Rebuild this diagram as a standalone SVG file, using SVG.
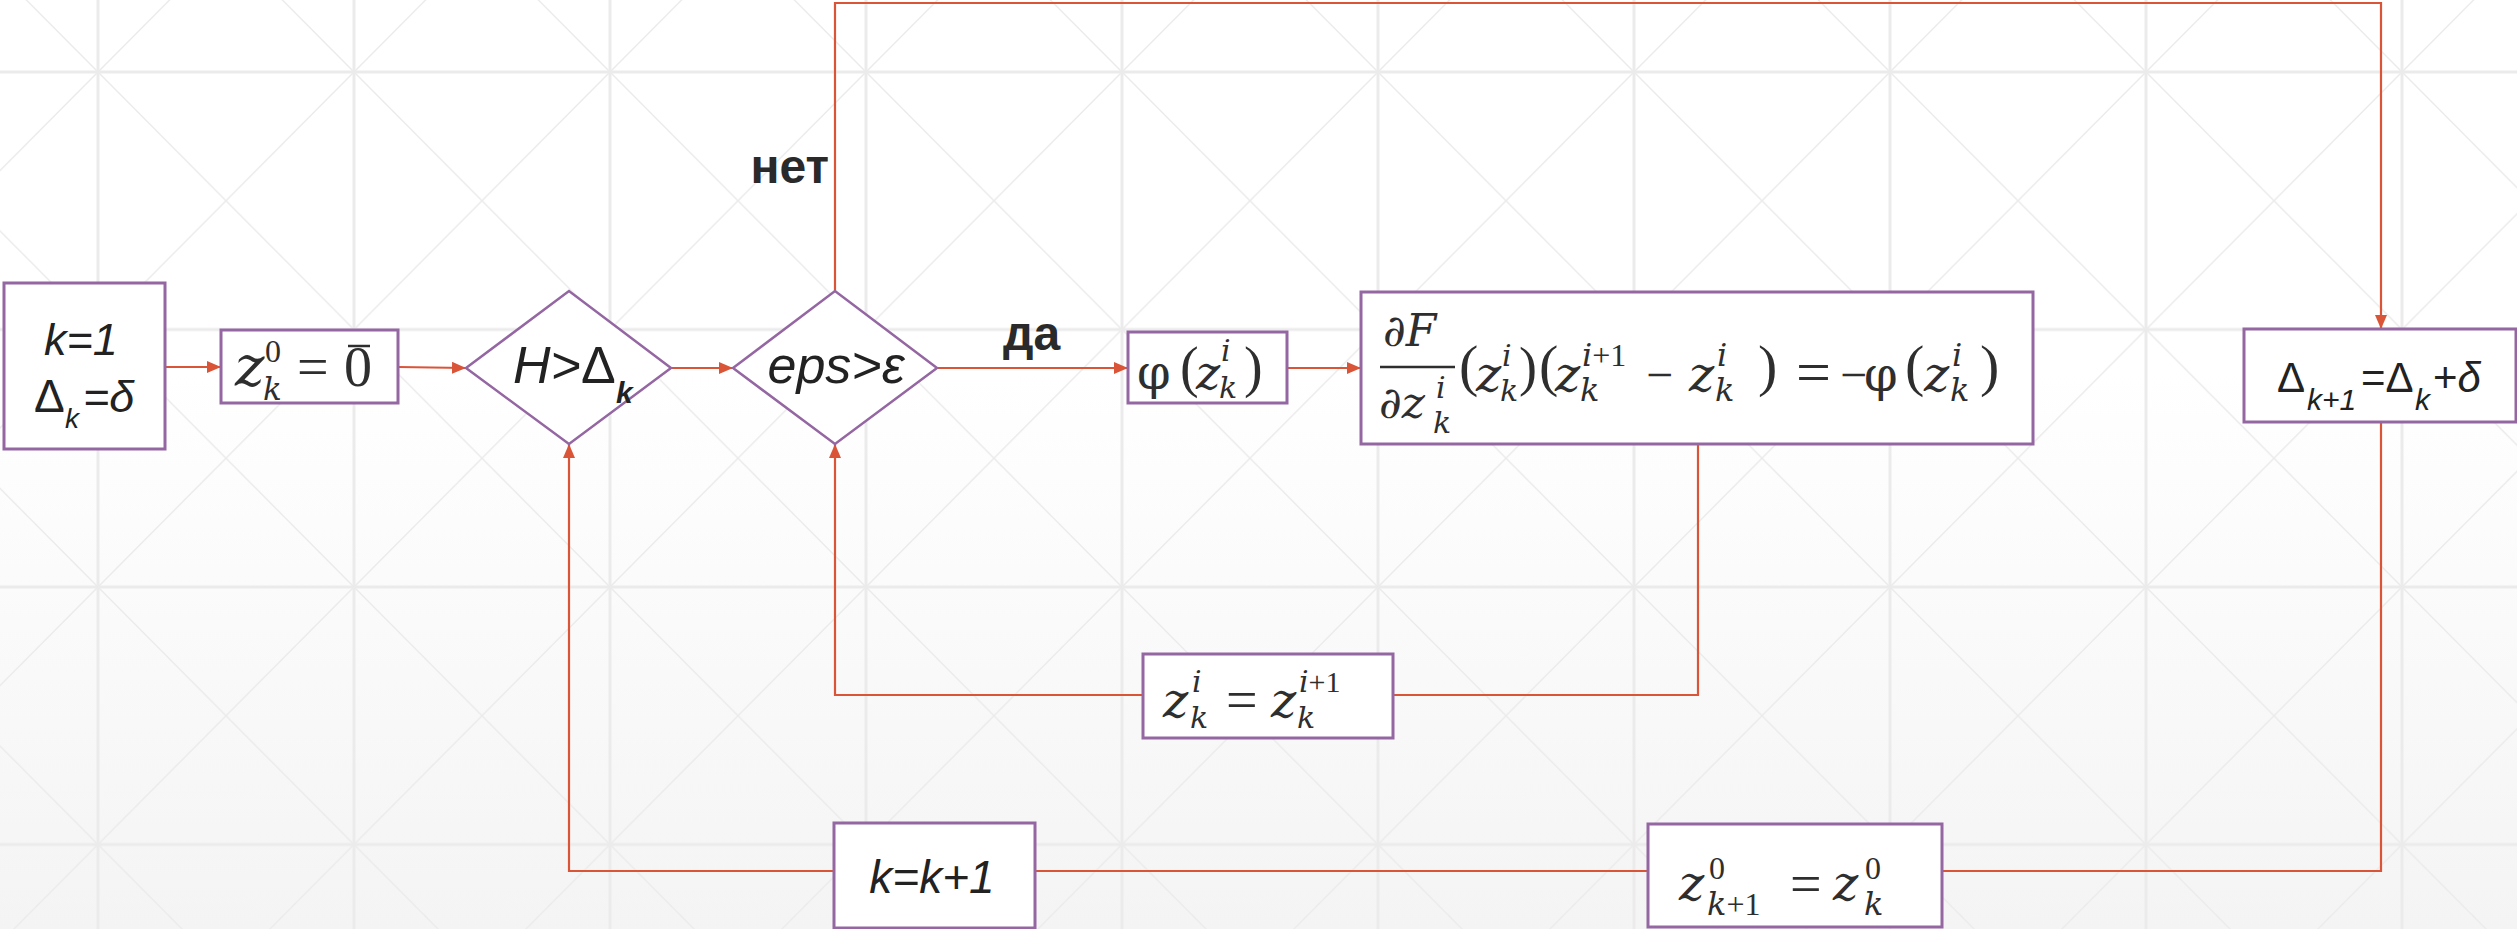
<svg xmlns="http://www.w3.org/2000/svg" width="2517" height="929" viewBox="0 0 2517 929">
<style>
.box{fill:#ffffff;stroke:#9466a2;stroke-width:3}
.dia{fill:#ffffff;stroke:#9466a2;stroke-width:2.5}
.con{fill:none;stroke:#da5438;stroke-width:2.2}
.sans{font-family:"Liberation Sans",Arial,sans-serif;fill:#222222}
.it{font-style:italic}
.lbl{font-family:"Liberation Sans",Arial,sans-serif;font-weight:bold;font-size:48px;fill:#2a2a2a}
.mi{font-family:"DejaVu Serif","Liberation Serif",serif;font-style:italic;fill:#2e2e2e}
.mo{font-family:"Liberation Serif","DejaVu Serif",serif;fill:#2e2e2e}
.mu{font-family:"DejaVu Serif","Liberation Serif",serif;fill:#2e2e2e}
.bar{stroke:#2e2e2e;stroke-width:2.5}
</style>
<defs>
<linearGradient id="bg" x1="0" y1="0" x2="0" y2="1">
<stop offset="0" stop-color="#ffffff"/>
<stop offset="0.4" stop-color="#ffffff"/>
<stop offset="1" stop-color="#f4f4f4"/>
</linearGradient>
<pattern id="grid" patternUnits="userSpaceOnUse" x="98" y="72" width="256" height="257.5">
<path d="M0,0 V257.5 M256,0 V257.5 M0,0 H256 M0,257.5 H256" stroke="#ebebeb" stroke-width="3" fill="none"/>
<path d="M0,0 L256,257.5 M256,0 L0,257.5" stroke="#ebebeb" stroke-width="1.5" fill="none"/>
</pattern>
<marker id="arr" markerUnits="userSpaceOnUse" markerWidth="14" markerHeight="12" refX="14" refY="6" orient="auto">
<path d="M0,0 L14,6 L0,12 Z" fill="#da5438"/>
</marker>
</defs>
<rect x="0" y="0" width="2517" height="929" fill="url(#bg)"/>
<rect x="0" y="0" width="2517" height="929" fill="url(#grid)"/>

<g id="connectors">
<path class="con" d="M165,367 H221" marker-end="url(#arr)"/>
<path class="con" d="M398,367 L466,368" marker-end="url(#arr)"/>
<path class="con" d="M671,368 H733" marker-end="url(#arr)"/>
<path class="con" d="M937,368 H1128" marker-end="url(#arr)"/>
<path class="con" d="M1287,368 H1361" marker-end="url(#arr)"/>
<path class="con" d="M1698,444 V695 H835 V444" marker-end="url(#arr)"/>
<path class="con" d="M835,291 V3 H2381 V329" marker-end="url(#arr)"/>
<path class="con" d="M2381,422 V871 H569 V444" marker-end="url(#arr)"/>
<text class="lbl" x="1003" y="350">да</text>
<text class="lbl" x="829" y="183" text-anchor="end">нет</text>
</g>

<g id="n-start">
<rect class="box" x="4" y="283" width="161" height="166"/>
<text class="sans it" x="44" y="355" font-size="45">k=1</text>
<text class="sans" y="412" font-size="46"><tspan x="34">Δ</tspan><tspan x="65" y="428" font-size="28" font-style="italic">k</tspan><tspan x="83" y="412" font-size="45" font-style="italic">=δ</tspan></text>
</g>

<g id="n-init">
<rect class="box" x="221" y="330" width="177" height="73"/>
<text class="mi" x="235" y="386" font-size="56">z</text>
<text class="mo" x="265" y="362" font-size="32">0</text>
<text class="mi" x="263" y="400" font-size="31">k</text>
<text class="mo" x="297" y="386" font-size="56">=</text>
<text class="mo" x="344" y="386" font-size="56">0</text>
<line class="bar" x1="348" y1="346" x2="370" y2="346"/>
</g>

<g id="n-h">
<polygon class="dia" points="466,368 569,291 671,368 569,444"/>
<text class="sans" x="513" y="383" font-size="52"><tspan font-style="italic">H&gt;</tspan><tspan>Δ</tspan><tspan x="616" y="403" font-size="30" font-weight="bold" font-style="italic">k</tspan></text>
</g>

<g id="n-eps">
<polygon class="dia" points="733,368 835,291 937,368 835,444"/>
<text class="sans it" x="836" y="383" font-size="52" text-anchor="middle">eps&gt;ε</text>
</g>

<g id="n-phi">
<rect class="box" x="1128" y="332" width="159" height="71"/>
<text class="mu" x="1137" y="389" font-size="48">φ</text>
<text class="mo" x="1180" y="386" font-size="56">(</text>
<text class="mi" x="1196" y="389" font-size="46">z</text>
<text class="mi" x="1221" y="361" font-size="30">i</text>
<text class="mi" x="1219" y="398" font-size="30">k</text>
<text class="mo" x="1244" y="386" font-size="56">)</text>
</g>

<g id="n-newton">
<rect class="box" x="1361" y="292" width="672" height="152"/>
<text class="mi" x="1383" y="346" font-size="44">∂F</text>
<line class="bar" x1="1380" y1="367" x2="1455" y2="367"/>
<text class="mi" x="1379" y="418" font-size="44">∂z</text>
<text class="mi" x="1436" y="398" font-size="30">i</text>
<text class="mi" x="1433" y="433" font-size="30">k</text>
<text class="mo" x="1459" y="385" font-size="58">(</text>
<text class="mi" x="1476" y="391" font-size="48">z</text>
<text class="mi" x="1502" y="366" font-size="30">i</text>
<text class="mi" x="1500" y="401" font-size="30">k</text>
<text class="mo" x="1519" y="385" font-size="54">)</text>
<text class="mo" x="1539" y="385" font-size="58">(</text>
<text class="mi" x="1555" y="391" font-size="48">z</text>
<text x="1582" y="366" font-size="32"><tspan class="mi">i</tspan><tspan class="mo">+1</tspan></text>
<text class="mi" x="1580" y="401" font-size="32">k</text>
<text class="mo" x="1646" y="391" font-size="48">−</text>
<text class="mi" x="1689" y="391" font-size="48">z</text>
<text class="mi" x="1717" y="366" font-size="32">i</text>
<text class="mi" x="1715" y="401" font-size="32">k</text>
<text class="mo" x="1758" y="385" font-size="58">)</text>
<text class="mo" x="1796" y="393" font-size="62">=</text>
<text class="mo" x="1840" y="391" font-size="48">−</text>
<text class="mu" x="1864" y="391" font-size="48">φ</text>
<text class="mo" x="1905" y="385" font-size="58">(</text>
<text class="mi" x="1924" y="391" font-size="48">z</text>
<text class="mi" x="1952" y="366" font-size="32">i</text>
<text class="mi" x="1950" y="401" font-size="32">k</text>
<text class="mo" x="1980" y="385" font-size="58">)</text>
</g>

<g id="n-update-z">
<rect class="box" x="1143" y="654" width="250" height="84"/>
<text class="mi" x="1163" y="717" font-size="48">z</text>
<text class="mi" x="1192" y="692" font-size="30">i</text>
<text class="mi" x="1190" y="728" font-size="30">k</text>
<text class="mo" x="1226" y="719" font-size="56">=</text>
<text class="mi" x="1271" y="717" font-size="48">z</text>
<text x="1299" y="692" font-size="30"><tspan class="mi">i</tspan><tspan class="mo">+1</tspan></text>
<text class="mi" x="1297" y="728" font-size="30">k</text>
</g>

<g id="n-delta">
<rect class="box" x="2244" y="329" width="272" height="93"/>
<text class="sans" y="392" font-size="42"><tspan x="2277">Δ</tspan><tspan x="2307" y="410" font-size="30" font-style="italic">k+1</tspan><tspan x="2361" y="392">=Δ</tspan><tspan x="2415" y="410" font-size="30" font-style="italic">k</tspan><tspan x="2433" y="392">+</tspan><tspan font-style="italic">δ</tspan></text>
</g>

<g id="n-kinc">
<rect class="box" x="834" y="823" width="201" height="105"/>
<text class="sans it" x="932" y="893" font-size="46" text-anchor="middle">k=k+1</text>
</g>

<g id="n-z0">
<rect class="box" x="1648" y="824" width="294" height="103"/>
<text class="mi" x="1679" y="900" font-size="48">z</text>
<text class="mo" x="1709" y="879" font-size="32">0</text>
<text x="1707" y="915" font-size="32"><tspan class="mi">k</tspan><tspan class="mo">+1</tspan></text>
<text class="mo" x="1790" y="903" font-size="56">=</text>
<text class="mi" x="1833" y="900" font-size="48">z</text>
<text class="mo" x="1865" y="879" font-size="32">0</text>
<text class="mi" x="1864" y="915" font-size="32">k</text>
</g>
</svg>
